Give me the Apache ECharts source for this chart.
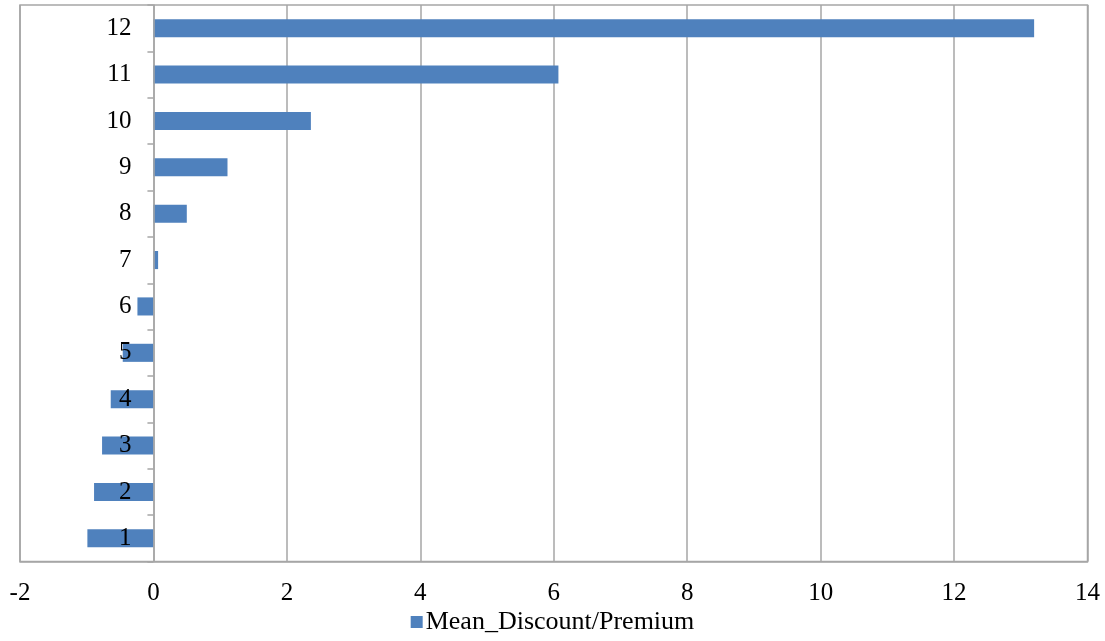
<!DOCTYPE html>
<html>
<head>
<meta charset="utf-8">
<script src="https://cdn.jsdelivr.net/npm/echarts@6/dist/echarts.min.js"></script>
<style>
html,body{margin:0;padding:0;background:#fff;}
#chart{width:1105px;height:641px;}
</style>
</head>
<body>
<div id="chart"></div>
<script>
var categories = ['1','2','3','4','5','6','7','8','9','10','11','12'];
var meanDiscountPremium = [-0.99,-0.89,-0.77,-0.64,-0.46,-0.24,0.07,0.50,1.11,2.36,6.07,13.20];
var seriesName = 'Mean_Discount/Premium';
var xTicks = { min: -2, max: 14, interval: 2 };

var font = '"Liberation Serif","Times New Roman",serif';
var gridLeft = 20;
var chart = echarts.init(document.getElementById('chart'));
chart.setOption({
  animation: false,
  backgroundColor: '#ffffff',
  grid: {
    left: gridLeft, right: 17.5, top: 5, bottom: 79.5,
    containLabel: false,
    outerBoundsMode: 'none',
    show: true, borderColor: '#a6a6a6', borderWidth: 1.5
  },
  legend: {
    bottom: 1,
    left: 'center',
    icon: 'rect',
    itemWidth: 12,
    itemHeight: 12,
    itemGap: 4,
    textStyle: { fontFamily: font, fontSize: 26, color: '#000', padding: [0, 0, 0, -2] },
    data: [seriesName]
  },
  xAxis: {
    type: 'value',
    min: xTicks.min, max: xTicks.max, interval: xTicks.interval,
    axisLine: { show: true, onZero: false, lineStyle: { color: '#a6a6a6', width: 1.5 } },
    axisTick: { show: false },
    splitLine: { show: true, lineStyle: { color: '#a6a6a6', width: 1.5 } },
    axisLabel: { fontFamily: font, fontSize: 25, color: '#000', margin: 19 }
  },
  yAxis: {
    type: 'category',
    data: categories,
    z: 3,
    position: 'left',
    offset: 0,
    axisLine: { show: true, onZero: false, lineStyle: { color: '#a6a6a6', width: 1.5 } },
    axisTick: { show: true, length: 6, inside: false, lineStyle: { color: '#a6a6a6', width: 1.5 } },
    splitLine: { show: false },
    axisLabel: { show: true, interval: 0, fontFamily: font, fontSize: 25, color: '#000', margin: 22 }
  },
  series: [{
    name: seriesName,
    type: 'bar',
    data: meanDiscountPremium,
    barCategoryGap: '61%',
    itemStyle: { color: '#4f81bd' }
  }]
});
// place the category axis on the x = 0 line of the value axis
var zeroPx = chart.convertToPixel({ xAxisIndex: 0 }, 0);
chart.setOption({ yAxis: { offset: gridLeft - zeroPx } });
</script>
</body>
</html>
